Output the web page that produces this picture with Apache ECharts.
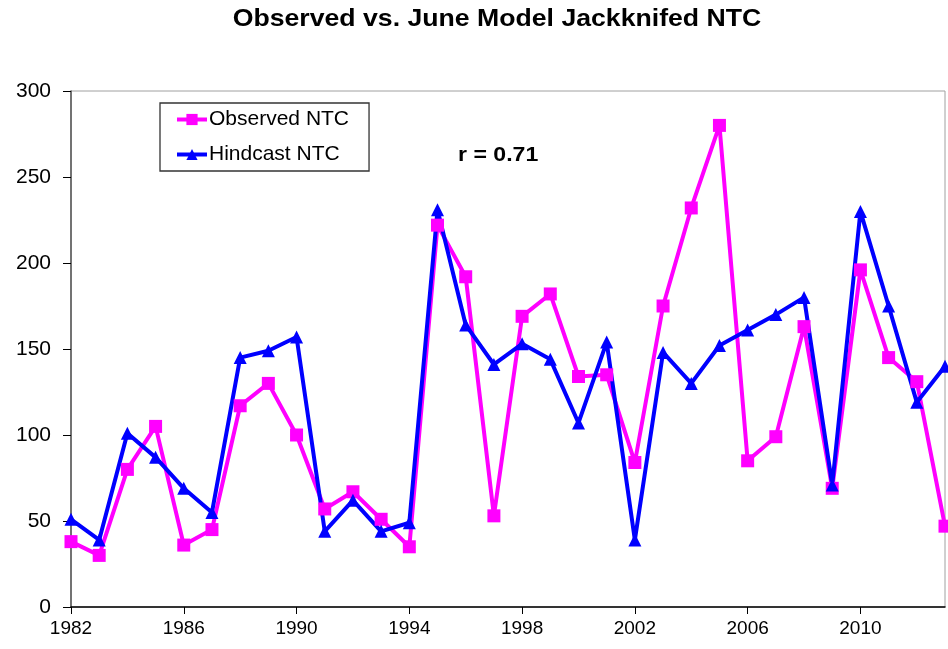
<!DOCTYPE html>
<html><head><meta charset="utf-8">
<script src="https://cdn.jsdelivr.net/npm/echarts@6/dist/echarts.min.js"></script>
<style>html,body{margin:0;padding:0;background:#fff}#c{width:948px;height:649px}</style>
</head><body><div id="c"></div>
<script>
var years = [];
for (var y = 1982; y <= 2013; y++) years.push(String(y));
var observedNTC = [38,30,80,105,36,45,117,130,100,57,67,51,35,222,192,53,169,182,134,135,84,175,232,280,85,99,163,69,196,145,131,47];
var hindcastNTC = [51,39,101,87,69,55,145,149,157,44,62,44,49,231,164,141,153,144,107,154,39,148,130,152,161,170,180,71,230,175,119,140];
var yTicks = {min:0, max:300, interval:50};

var chart = echarts.init(document.getElementById('c'), null, {renderer:'canvas'});
var FF = '"Liberation Sans", Arial, sans-serif';
chart.setOption({
  animation:false,
  backgroundColor:'#fff',
  grid:{left:71, right:3, top:91, bottom:42, show:true, borderColor:'#a0a0a0', borderWidth:1},
  legend:{orient:'vertical', left:160, top:103, padding:[6,20,6,15], itemGap:14,
    itemWidth:30, itemHeight:14, borderColor:'#333', borderWidth:1.3, backgroundColor:'#fff',
    lineStyle:{width:4},
    textStyle:{fontFamily:FF, fontSize:21, color:'#000', padding:[0,0,0,-3]},
    data:['Observed NTC','Hindcast NTC']},
  xAxis:{type:'category', data:years, boundaryGap:false,
    axisLine:{lineStyle:{color:'#000', width:1.5}},
    axisTick:{interval:3, length:7, lineStyle:{color:'#000'}},
    axisLabel:{interval:3, fontFamily:FF, fontSize:19, color:'#000', margin:12},
    splitLine:{show:false}},
  yAxis:{type:'value', min:yTicks.min, max:yTicks.max, interval:yTicks.interval,
    axisLine:{show:true, lineStyle:{color:'#555', width:1.5}},
    axisTick:{show:true, length:8, lineStyle:{color:'#000'}},
    axisLabel:{fontFamily:FF, fontSize:21, color:'#000', margin:20},
    splitLine:{show:false}},
  graphic:[
    {type:'text', x:497, y:19, scaleX:1.11, style:{text:'Observed vs. June Model Jackknifed NTC', font:'bold 24px '+FF, fill:'#000', textAlign:'center', textVerticalAlign:'middle'}},
    {type:'text', x:458, y:155, scaleX:1.1, style:{text:'r = 0.71', font:'bold 21px '+FF, fill:'#000', textAlign:'left', textVerticalAlign:'middle'}}
  ],
  series:[
    {name:'Observed NTC', type:'line', data:observedNTC, color:'#ff00ff',
     lineStyle:{width:4, color:'#ff00ff'}, symbol:'rect', symbolSize:13,
     itemStyle:{color:'#ff00ff'}},
    {name:'Hindcast NTC', type:'line', data:hindcastNTC, color:'#0000ff',
     lineStyle:{width:4, color:'#0000ff'}, symbol:'triangle', symbolSize:13,
     itemStyle:{color:'#0000ff'}}
  ]
});
</script></body></html>
